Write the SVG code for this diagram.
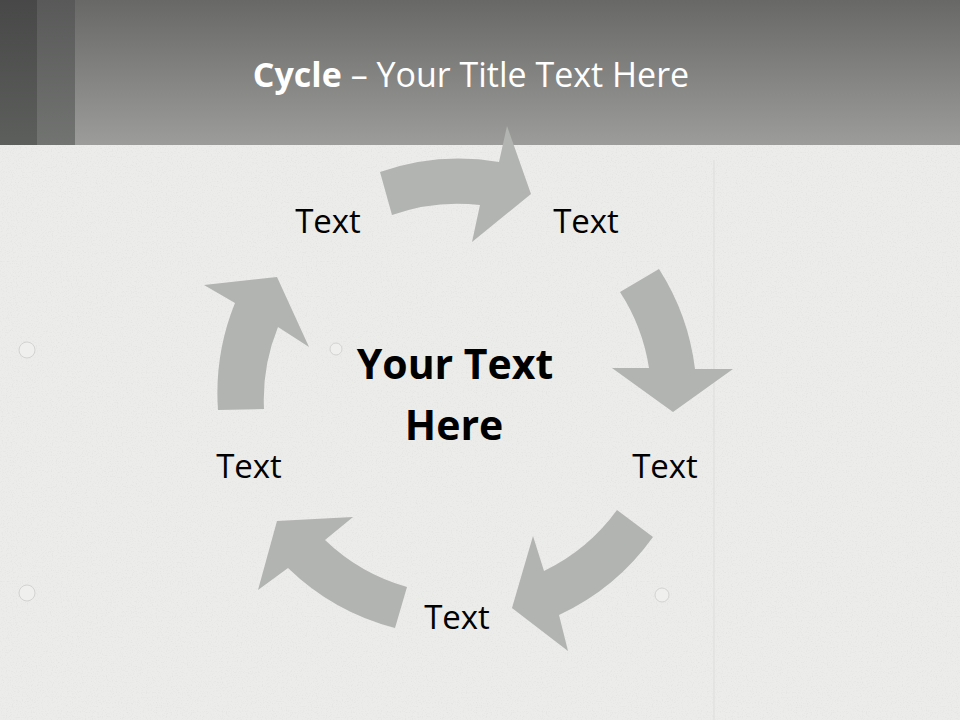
<svg xmlns="http://www.w3.org/2000/svg" width="960" height="720" viewBox="0 0 960 720">
  <defs>
    <linearGradient id="hdr" x1="0" y1="0" x2="0" y2="1">
      <stop offset="0" stop-color="#686867"/>
      <stop offset="1" stop-color="#9c9d9a"/>
    </linearGradient>
    <linearGradient id="hdrL1" x1="0" y1="0" x2="0" y2="1">
      <stop offset="0" stop-color="#474847"/>
      <stop offset="1" stop-color="#5d5f5d"/>
    </linearGradient>
    <linearGradient id="hdrL2" x1="0" y1="0" x2="0" y2="1">
      <stop offset="0" stop-color="#585958"/>
      <stop offset="1" stop-color="#727472"/>
    </linearGradient>
    <filter id="noise" x="0" y="0" width="100%" height="100%">
      <feTurbulence type="fractalNoise" baseFrequency="0.8" numOctaves="2" seed="7"/>
      <feColorMatrix type="matrix" values="0 0 0 0 0.45  0 0 0 0 0.45  0 0 0 0 0.44  0 0 0 -2.6 1.3"/>
    </filter>
    <style>
      .arrow { fill: #b2b4b1; }
      .lbl { font-family: "Open Sans", "Liberation Sans", sans-serif; font-size: 33px; fill: #000000; text-anchor: middle; }
      .ctr { font-family: "Open Sans", "Liberation Sans", sans-serif; font-size: 41px; font-weight: bold; fill: #000000; text-anchor: middle; }
      .ttl { font-family: "Open Sans", "Liberation Sans", sans-serif; font-size: 34px; fill: #ffffff; text-anchor: middle; }
      .hole { fill: #efefed; stroke: #d3d3d1; stroke-width: 1; }
      .seam { stroke: #dddddb; stroke-width: 1; fill: none; }
    </style>
  </defs>

  <!-- background -->
  <rect x="0" y="0" width="960" height="720" fill="#ececeb"/>
  <rect x="0" y="145" width="960" height="575" filter="url(#noise)" opacity="0.14"/>
  <line class="seam" x1="714" y1="160" x2="714" y2="720"/>
  <circle class="hole" cx="27" cy="350" r="8"/>
  <circle class="hole" cx="27" cy="593" r="8"/>
  <circle class="hole" cx="662" cy="595" r="7"/>
  <circle class="hole" cx="336" cy="349" r="6"/>

  <!-- header -->
  <rect x="0" y="0" width="960" height="145" fill="url(#hdr)"/>
  <rect x="0" y="0" width="37" height="145" fill="url(#hdrL1)"/>
  <rect x="37" y="0" width="38" height="145" fill="url(#hdrL2)"/>
  <text class="ttl" x="471" y="87"><tspan font-weight="bold">Cycle</tspan> – Your Title Text Here</text>

  <!-- connectors (curved cycle arrows) -->
  <g id="connectors">
    <path class="arrow" d="M380,172 A239,239 0 0 1 499,162 L507,126 L531,194 L472,242 L480,205 A194,194 0 0 0 392,215 Z"/>
    <path class="arrow" d="M659,269 A239,239 0 0 1 695,369 L733,369 L673,412 L612,368 L649,368 A194,194 0 0 0 620,292 Z"/>
    <path class="arrow" d="M653,537 A240,240 0 0 1 559,615 L568,651 L512,608 L533,536 L544,571 A195,195 0 0 0 617,510 Z"/>
    <path class="arrow" d="M395,628 A240,240 0 0 1 288,568 L258,590 L277,521 L353,517 L325,540 A195,195 0 0 0 407,587 Z"/>
    <path class="arrow" d="M218,410 A240,240 0 0 1 235,303 L204,285 L277,277 L309,347 L278,327 A193,193 0 0 0 264,409 Z"/>
  </g>

  <!-- nodes -->
  <g id="node-center">
    <text class="ctr" x="455" y="379">Your Text</text>
    <text class="ctr" x="454" y="440">Here</text>
  </g>
  <g id="node-1"><text class="lbl" x="328" y="233">Text</text></g>
  <g id="node-2"><text class="lbl" x="586" y="233">Text</text></g>
  <g id="node-3"><text class="lbl" x="665" y="478">Text</text></g>
  <g id="node-4"><text class="lbl" x="457" y="629">Text</text></g>
  <g id="node-5"><text class="lbl" x="249" y="478">Text</text></g>
</svg>
